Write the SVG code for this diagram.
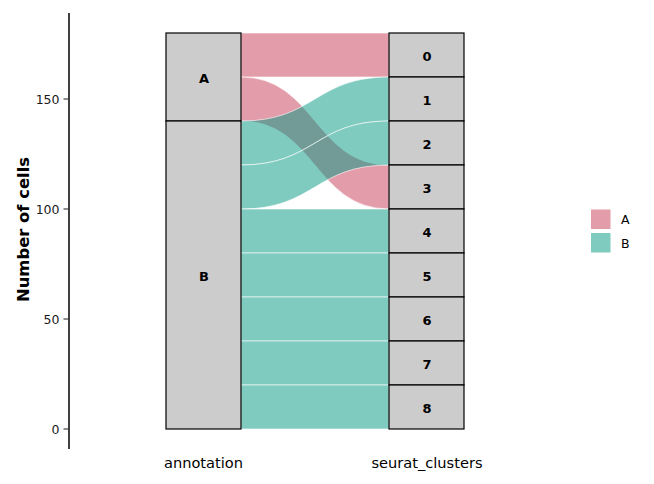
<svg xmlns="http://www.w3.org/2000/svg" width="654" height="484" viewBox="0 0 654 484">
<style>
.fa{fill:#C73B55;fill-opacity:0.5;stroke:#ffffff;stroke-opacity:0.6;stroke-width:1}
.fb{fill:#019781;fill-opacity:0.5;stroke:#ffffff;stroke-opacity:0.6;stroke-width:1}
.nd{fill:#CCCCCC;stroke:#000000;stroke-width:1.2}
.nl{font-family:"DejaVu Sans",sans-serif;font-size:13px;font-weight:bold;fill:#000;text-anchor:middle}
.tk{font-family:"DejaVu Sans",sans-serif;font-size:12.5px;fill:#1a1a1a;text-anchor:end}
.ax{font-family:"DejaVu Sans",sans-serif;font-size:14.6px;fill:#000;text-anchor:middle}
.lg{font-family:"DejaVu Sans",sans-serif;font-size:12.5px;fill:#000}
</style>
<rect width="654" height="484" fill="#ffffff"/>
<g id="connectors">
<path class="fa" d="M241,33 L389,33 L389,77 L241,77 Z"/>
<path class="fa" d="M241,77 C315,77 315,165 389,165 L389,209 C315,209 315,121 241,121 Z"/>
<path class="fb" d="M241,121 C315,121 315,77 389,77 L389,121 C315,121 315,165 241,165 Z"/>
<path class="fb" d="M241,165 C315,165 315,121 389,121 L389,165 C315,165 315,209 241,209 Z"/>
<path class="fb" d="M241,209 L389,209 L389,253 L241,253 Z"/>
<path class="fb" d="M241,253 L389,253 L389,297 L241,297 Z"/>
<path class="fb" d="M241,297 L389,297 L389,341 L241,341 Z"/>
<path class="fb" d="M241,341 L389,341 L389,385 L241,385 Z"/>
<path class="fb" d="M241,385 L389,385 L389,429 L241,429 Z"/>
</g>
<g id="node-A"><rect class="nd" x="166" y="33" width="75" height="88"/><text class="nl" x="204" y="82.5" font-size="14">A</text></g>
<g id="node-B"><rect class="nd" x="166" y="121" width="75" height="308"/><text class="nl" x="204" y="280.5" font-size="14">B</text></g>
<g id="node-0"><rect class="nd" x="389" y="33" width="75" height="44"/><text class="nl" x="427" y="60.5">0</text></g>
<g id="node-1"><rect class="nd" x="389" y="77" width="75" height="44"/><text class="nl" x="427" y="104.5">1</text></g>
<g id="node-2"><rect class="nd" x="389" y="121" width="75" height="44"/><text class="nl" x="427" y="148.5">2</text></g>
<g id="node-3"><rect class="nd" x="389" y="165" width="75" height="44"/><text class="nl" x="427" y="192.5">3</text></g>
<g id="node-4"><rect class="nd" x="389" y="209" width="75" height="44"/><text class="nl" x="427" y="236.5">4</text></g>
<g id="node-5"><rect class="nd" x="389" y="253" width="75" height="44"/><text class="nl" x="427" y="280.5">5</text></g>
<g id="node-6"><rect class="nd" x="389" y="297" width="75" height="44"/><text class="nl" x="427" y="324.5">6</text></g>
<g id="node-7"><rect class="nd" x="389" y="341" width="75" height="44"/><text class="nl" x="427" y="368.5">7</text></g>
<g id="node-8"><rect class="nd" x="389" y="385" width="75" height="44"/><text class="nl" x="427" y="412.5">8</text></g>
<g id="axis">
<line x1="69" y1="13" x2="69" y2="449" stroke="#000" stroke-width="1.5"/>
<g stroke="#333" stroke-width="1.1">
<line x1="63.5" y1="429" x2="69" y2="429"/>
<line x1="63.5" y1="319" x2="69" y2="319"/>
<line x1="63.5" y1="209" x2="69" y2="209"/>
<line x1="63.5" y1="99" x2="69" y2="99"/>
</g>
<text class="tk" x="59.5" y="433.5">0</text>
<text class="tk" x="59.5" y="323.5">50</text>
<text class="tk" x="59.5" y="213.5">100</text>
<text class="tk" x="59.5" y="103.5">150</text>
<text transform="translate(28.5,229.5) rotate(-90)" font-family="'DejaVu Sans',sans-serif" font-weight="bold" font-size="16.4" fill="#000" text-anchor="middle">Number of cells</text>
<text class="ax" x="203.5" y="468">annotation</text>
<text class="ax" x="427" y="468">seurat_clusters</text>
</g>
<g id="legend">
<rect x="591" y="209.5" width="19.5" height="19.5" fill="#C73B55" fill-opacity="0.5"/>
<rect x="591" y="233" width="19.5" height="19.5" fill="#019781" fill-opacity="0.5"/>
<text class="lg" x="621" y="224">A</text>
<text class="lg" x="621" y="247.5">B</text>
</g>
</svg>
